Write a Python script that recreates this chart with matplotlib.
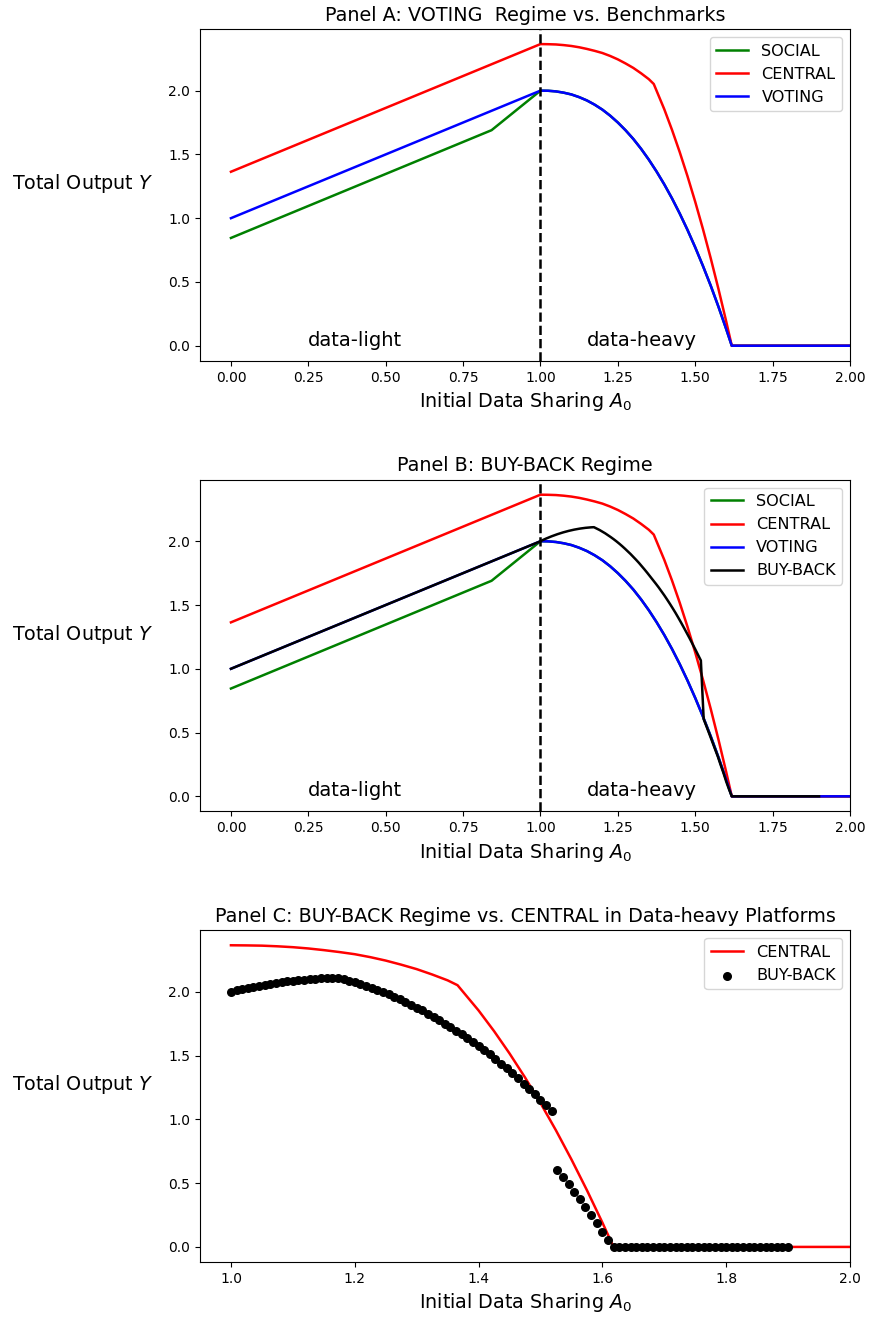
import matplotlib
matplotlib.use("Agg")
import matplotlib.pyplot as plt
import numpy as np

# ---- data ----
# SOCIAL in the data-light region (data-heavy part coincides with VOTING)
social_light_x = [0.0, 0.842, 1.0]
social_light_y = [0.845, 1.69, 2.0]

central_x = [0.0, 1.0, 1.025, 1.05, 1.075, 1.10, 1.125, 1.15, 1.175, 1.20, 1.225,
             1.25, 1.275, 1.30, 1.325, 1.35, 1.366,
             1.40, 1.425, 1.45, 1.475, 1.50, 1.525, 1.55, 1.575, 1.60, 1.618, 2.0]
central_y = [1.364, 2.365, 2.364, 2.362, 2.357, 2.350, 2.340, 2.327, 2.312, 2.295, 2.272,
             2.245, 2.213, 2.178, 2.136, 2.090, 2.052,
             1.854, 1.692, 1.517, 1.329, 1.128, 0.914, 0.686, 0.445, 0.191, 0.0, 0.0]

voting_x = [0.0, 1.0, 1.025, 1.05, 1.075, 1.10, 1.125, 1.15, 1.175, 1.20, 1.225,
            1.25, 1.275, 1.30, 1.325, 1.35, 1.375, 1.40, 1.425, 1.45, 1.475,
            1.50, 1.525, 1.55, 1.575, 1.60, 1.618, 2.0]
voting_y = [1.0, 2.0, 1.999, 1.994, 1.984, 1.970, 1.949, 1.923, 1.890, 1.851, 1.804,
            1.750, 1.689, 1.621, 1.544, 1.459, 1.366, 1.265, 1.155, 1.036, 0.908,
            0.771, 0.625, 0.471, 0.306, 0.131, 0.0, 0.0]

# BUY-BACK: straight in data-light, sampled grid in data-heavy
buyback_light_x = [0.0, 1.0]
buyback_light_y = [1.0, 2.0]
buyback_heavy_x = np.linspace(1.0, 1.9, 100)
buyback_heavy_y = [
    2.000, 2.011, 2.021, 2.030, 2.039, 2.047, 2.055, 2.062, 2.069, 2.075,
    2.081, 2.086, 2.091, 2.095, 2.099, 2.102, 2.105, 2.107, 2.109, 2.110,
    2.099, 2.088, 2.075, 2.062, 2.047, 2.032, 2.016, 1.999, 1.981, 1.962,
    1.942, 1.921, 1.900, 1.877, 1.854, 1.830, 1.804, 1.778, 1.751, 1.723,
    1.695, 1.667, 1.638, 1.607, 1.576, 1.543, 1.509, 1.474, 1.438, 1.400,
    1.361, 1.321, 1.280, 1.239, 1.196, 1.153, 1.109, 1.065,
    0.605, 0.548, 0.490, 0.431, 0.372, 0.314, 0.248, 0.185, 0.116, 0.055,
] + [0.0] * 32

social_x = social_light_x + voting_x[2:]
social_y = social_light_y + voting_y[2:]
buyback_x = buyback_light_x + list(buyback_heavy_x[1:])
buyback_y = buyback_light_y + buyback_heavy_y[1:]

# ---- figure ----
fig, axes = plt.subplots(3, 1, figsize=(8.71, 13.19), dpi=100)
fig.subplots_adjust(left=200 / 871, right=850 / 871, top=1 - 29 / 1319,
                    bottom=1 - 1262 / 1319, hspace=0.358)

LABEL_FS = 13.8
TICK_FS = 10
LEGEND_FS = 11.6


def style(ax, title):
    ax.set_title(title, fontsize=13.8)
    ax.set_xlabel("Initial Data Sharing $A_0$", fontsize=LABEL_FS)
    ax.set_ylabel("Total Output $Y$", fontsize=LABEL_FS, rotation=0)
    ax.yaxis.set_label_coords(-0.18, 0.5)
    ax.tick_params(labelsize=TICK_FS)


# Panel A
ax = axes[0]
ax.plot(social_x, social_y, color="green", lw=1.8, label="SOCIAL")
ax.plot(central_x, central_y, color="red", lw=1.8, label="CENTRAL")
ax.plot(voting_x, voting_y, color="blue", lw=1.8, label="VOTING")
ax.axvline(1.0, color="black", ls="--", lw=1.8)
ax.text(0.25, 0.0, "data-light", fontsize=14)
ax.text(1.15, 0.0, "data-heavy", fontsize=14)
ax.set_xlim(-0.1, 2.0)
ax.legend(loc="upper right", fontsize=LEGEND_FS)
style(ax, "Panel A: VOTING  Regime vs. Benchmarks")

# Panel B
ax = axes[1]
ax.plot(social_x, social_y, color="green", lw=1.8, label="SOCIAL")
ax.plot(central_x, central_y, color="red", lw=1.8, label="CENTRAL")
ax.plot(voting_x, voting_y, color="blue", lw=1.8, label="VOTING")
ax.plot(buyback_x, buyback_y, color="black", lw=1.8, label="BUY-BACK")
ax.axvline(1.0, color="black", ls="--", lw=1.8)
ax.text(0.25, 0.0, "data-light", fontsize=14)
ax.text(1.15, 0.0, "data-heavy", fontsize=14)
ax.set_xlim(-0.1, 2.0)
ax.legend(loc="upper right", fontsize=LEGEND_FS)
style(ax, "Panel B: BUY-BACK Regime")

# Panel C
ax = axes[2]
ax.plot(central_x[1:], central_y[1:], color="red", lw=1.8, label="CENTRAL")
ax.scatter(buyback_heavy_x, buyback_heavy_y, color="black", s=30,
           label="BUY-BACK", zorder=3)
ax.set_xlim(0.95, 2.0)
ax.legend(loc="upper right", fontsize=LEGEND_FS)
style(ax, "Panel C: BUY-BACK Regime vs. CENTRAL in Data-heavy Platforms")

fig.savefig("out.png", dpi=100)
